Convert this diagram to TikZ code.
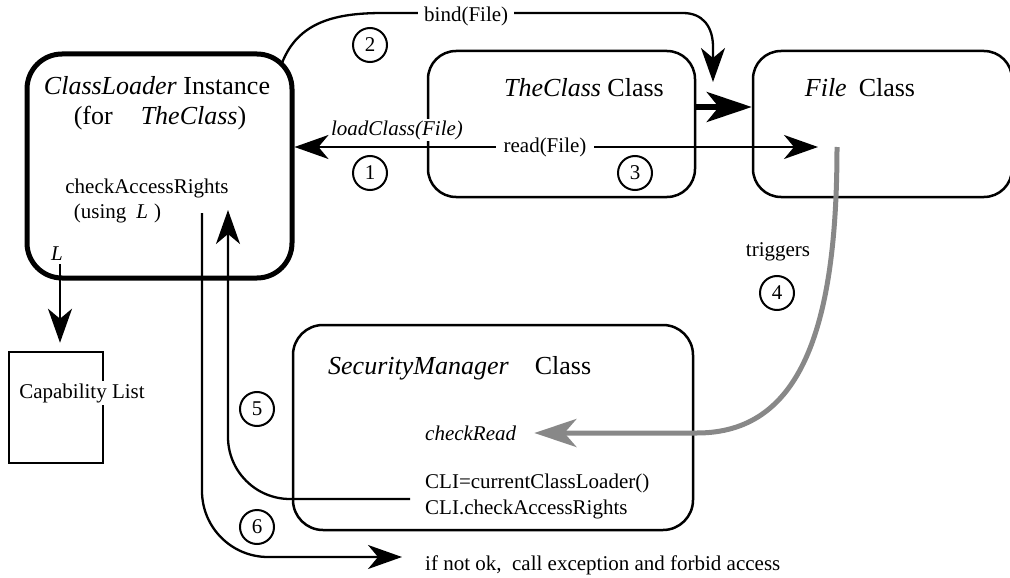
\documentclass[tikz,border=0pt]{standalone}
\usepackage{fontspec}
\setmainfont{Liberation Serif}
\usetikzlibrary{arrows.meta}
\definecolor{arrgrey}{RGB}{136,136,136}
\begin{document}
\begin{tikzpicture}[x=1pt,y=-1pt,
  bigtxt/.style={font=\fontsize{26}{30}\selectfont, inner sep=1pt},
  smtxt/.style={font=\fontsize{21}{25}\selectfont, inner sep=1pt},
  rbox/.style={draw, line width=2.5pt, rounded corners=28pt},
  num/.style={draw, circle, line width=2pt, minimum size=34pt, inner sep=0pt, font=\fontsize{21}{25}\selectfont},
  arr/.style={line width=2.3pt, -{Stealth[length=34pt,width=24pt,inset=10pt]}},
  thickarr/.style={line width=5.5pt, -{Stealth[length=45pt,width=30pt,inset=12pt]}},
  greyarr/.style={draw=arrgrey, line width=5pt, -{Stealth[length=42pt,width=28pt,inset=12pt]}},
  lbl/.style={smtxt, fill=white}
]
\useasboundingbox (0,0) rectangle (1010,578);

% boxes
\node[rbox, line width=5pt, rounded corners=35pt, minimum width=265pt, minimum height=224pt] (cl) at (159.5,166) {};
\node[rbox, minimum width=267pt, minimum height=146pt] (tc) at (561.5,124) {};
\node[rbox, minimum width=259pt, minimum height=146pt] (fc) at (882.5,124) {};
\node[rbox, rounded corners=30pt, minimum width=400pt, minimum height=205pt] (secm) at (493,427.5) {};
\node[draw, line width=2.5pt, minimum width=94pt, minimum height=111pt] (cap) at (56,407.5) {};
\node[smtxt, fill=white, inner sep=2pt] (captxt) at (82,393) {Capability List};

% texts
\node[bigtxt] (clt1) at (157,86) {\textit{ClassLoader} Instance};
\node[bigtxt] (clt2) at (160,118) {(for\hspace{28pt}\textit{TheClass})};
\node[smtxt] (car) at (147,188) {checkAccessRights};
\node[smtxt] (usl) at (117.5,213) {(using\hspace{10pt}\textit{L}\hspace{6pt})};
\node[smtxt] (lt) at (57,254) {\textit{L}};
\node[bigtxt] (tct) at (584,88) {\textit{TheClass} Class};
\node[bigtxt] (fct) at (860,88) {\textit{File}\hspace{12pt}Class};
\node[bigtxt, anchor=west] (smt) at (327,368) {\textit{SecurityManager}\hspace{26pt}Class};
\node[smtxt, anchor=west] (crd) at (424,433) {\textit{checkRead}};
\node[smtxt, anchor=west] (cli1) at (424,483) {CLI=currentClassLoader()};
\node[smtxt, anchor=west] (cli2) at (424,509) {CLI.checkAccessRights};
\node[smtxt, anchor=west] (fb) at (424,565) {if not ok,\ \ call exception and forbid access};
\node[smtxt] (trg) at (778,252) {triggers};

% coordinates
\coordinate (lbot) at (60,264);
\coordinate (rl) at (428,147);
\coordinate (rdend) at (818,147);
\coordinate (bs) at (282,63);
\coordinate (be) at (713,82);
\coordinate (th) at (720,107);
\coordinate (gs) at (837,147);
\coordinate (a5s) at (410,499);
\coordinate (a5e) at (228,210);
\coordinate (a6s) at (202,213);
\coordinate (a6e) at (402,557);

% L -> capability list
\draw[arr, shorten >=8pt] (lbot) -- (lbot |- cap.north);

% 1 loadClass and 3 read
\draw[arr] (tc.west |- rl) -- (rdend);
\draw[arr] (tc.west |- rl) -- (cl.east |- rl);
\node[lbl, font=\fontsize{21}{25}\selectfont\itshape] (lc) at (397,130) {loadClass(File)};
\node[lbl, inner xsep=8pt] (rd) at (545,147) {read(File)};

% 2 bind
\draw[arr] (bs) .. controls (298,22) and (335,13) .. (383,13) -- (683,13) .. controls (703,13) and (713,27) .. (713,47) -- (be);
\node[lbl, anchor=west, inner xsep=6pt] (bd) at (418,16) {bind(File)\hspace{14pt}};

% thick arrow TheClass -> File
\draw[thickarr] (tc.east |- th) -- (fc.west |- th);

% 4 triggers (grey)
\draw[greyarr, shorten >=17pt] (gs) .. controls (837,330) and (800,433) .. (697,433) -- (crd.east);

% 5
\draw[arr, rounded corners=62pt] (a5s) -- (a5s -| a5e) -- (a5e);
% 6
\draw[arr, rounded corners=66pt] (a6s) -- (a6s |- a6e) -- (a6e);

% numbers
\node[num] (n1) at (370,173) {1};
\node[num] (n2) at (370,45) {2};
\node[num] (n3) at (635,173) {3};
\node[num] (n4) at (777,293) {4};
\node[num] (n5) at (257,409) {5};
\node[num] (n6) at (257,527) {6};
\end{tikzpicture}
\end{document}
